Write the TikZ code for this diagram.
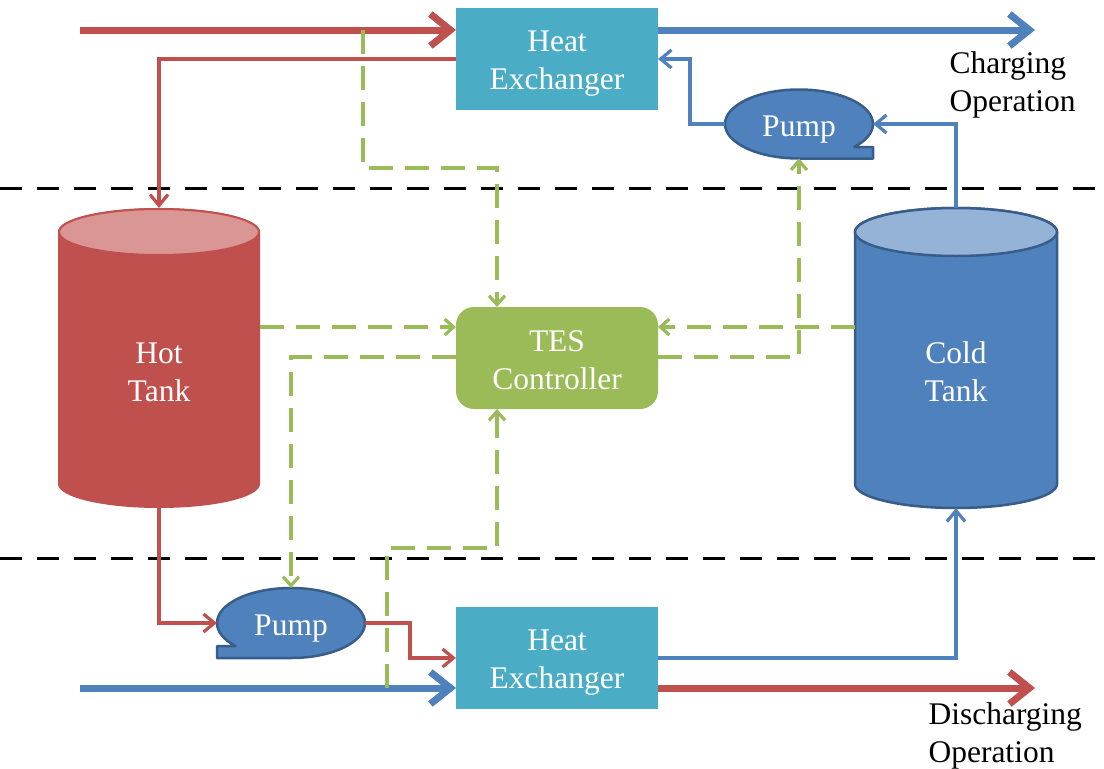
\documentclass[tikz,border=0pt]{standalone}
\usepackage{fontspec}
\setmainfont{Liberation Serif}
\usetikzlibrary{arrows.meta,shapes.geometric,calc}
\definecolor{hotred}{HTML}{C0504D}
\definecolor{hottop}{HTML}{D99694}
\definecolor{coldblue}{HTML}{4F81BD}
\definecolor{coldtop}{HTML}{95B3D7}
\definecolor{darkblue}{HTML}{385D8A}
\definecolor{aqua}{HTML}{4BACC6}
\definecolor{ctrlgreen}{HTML}{9BBB59}
\begin{document}
\begin{tikzpicture}[x=1pt,y=-1pt,
  txt/.style={font=\fontsize{31.5}{38}\selectfont, align=center},
  wtext/.style 2 args={label={[txt,text=white,yshift=#1]center:{#2}}},
  hxbox/.style={rectangle, fill=aqua, minimum width=202pt, minimum height=102pt, inner sep=0pt, outer sep=0pt},
  ctrlbox/.style={rectangle, rounded corners=18pt, fill=ctrlgreen, minimum width=202pt, minimum height=102pt, inner sep=0pt, outer sep=0pt},
  tankarea/.style={rectangle, minimum width=202pt, minimum height=300pt, inner sep=0pt, outer sep=0pt},
  pumpnode/.style={ellipse, minimum width=148pt, minimum height=69pt, inner sep=0pt, outer sep=0pt},
  pumpshape/.style={fill=coldblue, draw=darkblue, line width=2.5pt, line join=round},
  sep/.style={black, line width=3pt, dash pattern=on 22pt off 15pt},
  thinarr/.style={line width=3.2pt, -{Straight Barb[length=11pt,width=18pt]}},
  thickarr/.style={line width=7pt, -{Straight Barb[length=20pt,width=32pt]}},
  ctl/.style={ctrlgreen, line width=3.2pt, dash pattern=on 24pt off 12pt, -{Straight Barb[length=9pt,width=16pt]}},
  lbl/.style={txt, anchor=west, align=left, text=black}
]
\useasboundingbox (0,0) rectangle (1104,769);

% separator lines
\coordinate (s1a) at (0,188);  \coordinate (s1b) at (1104,188);
\coordinate (s2a) at (0,558);  \coordinate (s2b) at (1104,558);
\draw[sep] (s1a) -- (s1b);
\draw[sep] (s2a) -- (s2b);

% hot tank
\fill[hotred] (58,232) -- (58,484) arc[start angle=180,end angle=0,x radius=101,y radius=24] -- (260,232) arc[start angle=0,end angle=-180,x radius=101,y radius=24] -- cycle;
\filldraw[fill=hottop, draw=hotred, line width=2pt] (159,232) ellipse[x radius=100,y radius=23];
\node[tankarea] (ht) at (159,358) {};
\node[txt, text=white] (htl) at (159,372) {Hot\\Tank};

% cold tank
\filldraw[fill=coldblue, draw=darkblue, line width=2.5pt] (855,232) -- (855,484) arc[start angle=180,end angle=0,x radius=101,y radius=24] -- (1057,232) arc[start angle=0,end angle=-180,x radius=101,y radius=24] -- cycle;
\filldraw[fill=coldtop, draw=darkblue, line width=2.5pt] (956,232) ellipse[x radius=101,y radius=24];
\node[tankarea] (ct) at (956,358) {};
\node[txt, text=white] (ctl) at (956,372) {Cold\\Tank};

% pumps
\filldraw[pumpshape] (854.1,147) -- (873,147) -- (873,158.5) -- (799,158.5) arc[start angle=90,end angle=401.8,x radius=74,y radius=34.5] -- cycle;
\node[pumpnode, wtext={-6pt}{Pump}] (p1) at (799,124) {};
\filldraw[pumpshape] (235.3,646) -- (217,646) -- (217,658) -- (291,658) arc[start angle=90,end angle=-221.1,x radius=74,y radius=35] -- cycle;
\node[pumpnode, minimum height=70pt, wtext={-6pt}{Pump}] (p2) at (291,623) {};

% boxes
\node[hxbox, wtext={-5pt}{Heat\\Exchanger}] (hx1) at (557,59) {};
\node[hxbox, wtext={-5pt}{Heat\\Exchanger}] (hx2) at (557,658) {};
\node[ctrlbox, wtext={-2pt}{TES\\Controller}] (tes) at (557,358) {};

% free ends
\coordinate (rin) at (80,30);
\coordinate (bout) at (1035,30);
\coordinate (bin) at (80,688);
\coordinate (rout) at (1035,688);
\coordinate (g1) at (363,30);
\coordinate (g2) at (387,688);

% charging loop
\draw[thickarr, hotred] (rin) -- ([yshift=29pt]hx1.west);
\draw[thickarr, coldblue] ([yshift=29pt]hx1.east) -- (bout);
\draw[thinarr, hotred] (hx1.west) -| (ht.north);
\draw[thinarr, coldblue] (ct.north) |- (p1.east);
\draw[thinarr, coldblue] (p1.west) -- ++(-35,0) |- (hx1.east);

% discharging loop
\draw[thinarr, hotred] (ht.south) |- (p2.west);
\draw[thinarr, hotred] (p2.east) -- ++(45,0) |- (hx2.west);
\draw[thickarr, coldblue] (bin) -- ([yshift=-30pt]hx2.west);
\draw[thickarr, hotred] ([yshift=-30pt]hx2.east) -- (rout);
\draw[thinarr, coldblue] (hx2.east) -| (ct.south);

% control signals
\draw[ctl] (g1) -- ++(0,138) -| ([xshift=-60pt]tes.north);
\draw[ctl] ([yshift=31pt]ht.east) -- ([yshift=31pt]tes.west);
\draw[ctl] ([yshift=31pt]ct.west) -- ([yshift=31pt]tes.east);
\draw[ctl] ([yshift=1pt]tes.east) -| (p1.south);
\draw[ctl] ([yshift=1pt]tes.west) -| (p2.north);
\draw[ctl] (g2) -- ++(0,-140) -| ([xshift=-60pt]tes.south);

% labels
\node[lbl] (chg) at (946,85) {Charging\\Operation};
\node[lbl] (dis) at (925,736) {Discharging\\Operation};
\end{tikzpicture}
\end{document}
